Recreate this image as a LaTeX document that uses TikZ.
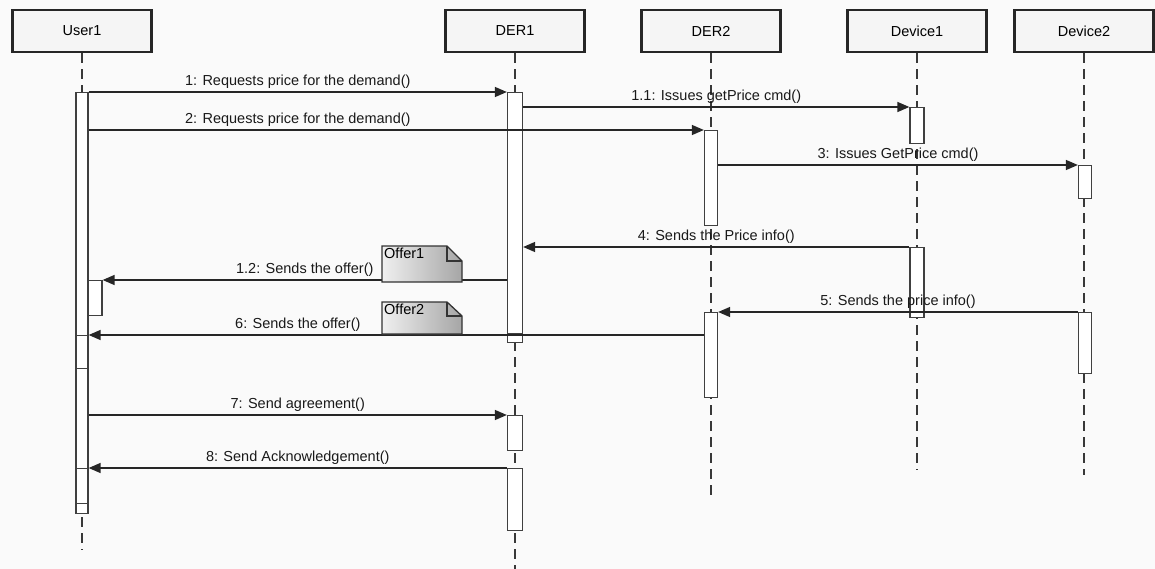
\documentclass[tikz,border=0pt]{standalone}
\usepackage{fontspec}
\setmainfont{Liberation Sans}
\usetikzlibrary{arrows.meta, positioning, calc}

\begin{document}
\begin{tikzpicture}[x=1pt, y=-1pt,
    every node/.style={font=\fontsize{14.5}{16}\selectfont},
    head/.style={draw=black!85, line width=2.8pt, fill=black!4, minimum width=139pt, minimum height=42pt, inner sep=0pt},
    lifeline/.style={draw=black!78, line width=2pt, dash pattern=on 10pt off 6pt},
    actbar/.style={draw=black!75, line width=1.3pt, fill=white, minimum width=13pt, inner sep=0pt, anchor=north},
    msg/.style={draw=black!85, line width=1.5pt, -{Triangle[length=12pt,width=10pt]}},
    lbl/.style={above, inner sep=2.5pt, text=black!90},
    note/.style={draw=black!80, line width=1.3pt, left color=black!6, right color=black!35}
]
\fill[black!2] (0,0) rectangle (1155,569);
\useasboundingbox (0,0) rectangle (1155,569);

% heads
\node[head] (user) at (82,31) {User1};
\node[head] (der1) at (515,31) {DER1};
\node[head] (der2) at (711,31) {DER2};
\node[head] (dev1) at (917,31) {Device1};
\node[head] (dev2) at (1084,31) {Device2};

% lifelines
\foreach \n/\e in {user/550, der1/569, der2/497, dev1/470, dev2/475}
    \draw[lifeline] (\n.south) -- (\n.south |- 0,\e);

% activation bars
\node[actbar, minimum width=12pt, minimum height=243pt] (u1b1) at (82,92) {};
\node[actbar, minimum width=12pt, minimum height=33pt] (u1b2) at (82,335) {};
\node[actbar, minimum width=12pt, minimum height=100pt] (u1b3) at (82,368) {};
\node[actbar, minimum width=12pt, minimum height=35pt] (u1b4) at (82,468) {};
\node[actbar, minimum width=12pt, minimum height=10pt] (u1b5) at (82,503) {};
\node[actbar, minimum width=14pt, minimum height=35pt] (u1n) at (95,280) {};

\node[actbar, minimum width=15pt, minimum height=241pt] (d1b1) at (515,92) {};
\node[actbar, minimum width=15pt, minimum height=9pt] (d1c1) at (515,333) {};
\node[actbar, minimum width=15pt, minimum height=35pt] (d1b2) at (515,415) {};
\node[actbar, minimum width=15pt, minimum height=62pt] (d1b3) at (515,468) {};

\node[actbar, minimum height=95pt] (d2b1) at (711,130) {};
\node[actbar, minimum height=85pt] (d2b2) at (711,312) {};

\node[actbar, minimum width=14pt, minimum height=36pt] (v1b1) at (917,107) {};
\node[actbar, minimum width=14pt, minimum height=70pt] (v1b2) at (917,247) {};

\node[actbar, minimum height=33pt] (v2b1) at (1085,165) {};
\node[actbar, minimum height=61pt] (v2b2) at (1085,312) {};

% messages
\draw[msg] (u1b1.north east) -- node[lbl] {1: Requests price for the demand()} (d1b1.north west);
\draw[msg] (d1b1.east |- v1b1.north) -- node[lbl] {1.1: Issues getPrice cmd()} (v1b1.north west);
\draw[msg] (u1b1.east |- d2b1.north) -- node[lbl, pos=0.34] {2: Requests price for the demand()} (d2b1.north west);
\draw[msg] (d2b1.east |- v2b1.north) -- node[lbl] {3: Issues GetPrice cmd()} (v2b1.north west);
\draw[msg] (v1b2.north west) -- node[lbl] {4: Sends the Price info()} (d1b1.east |- v1b2.north);
\draw[msg] (d1b1.west |- u1n.north) -- node[lbl] {1.2: Sends the offer()} (u1n.north east);
\draw[msg] (v2b2.north west) -- node[lbl] {5: Sends the price info()} (d2b2.north east);
\draw[msg] (d2b2.west |- u1b2.north) -- node[lbl, pos=0.66] {6: Sends the offer()} (u1b2.north east);
\draw[msg] (u1b3.east |- d1b2.north) -- node[lbl] {7: Send agreement()} (d1b2.north west);
\draw[msg] (d1b3.north west) -- node[lbl] {8: Send Acknowledgement()} (u1b4.north east);

% notes
\shadedraw[note] (382,246) -- (447,246) -- (462,261) -- (462,282) -- (382,282) -- cycle;
\draw[black!80, line width=1.3pt] (447,246) -- (447,261) -- (462,261);
\node[anchor=north west, inner sep=1pt] (offer1) at (383,247) {Offer1};
\shadedraw[note] (382,302) -- (447,302) -- (462,316) -- (462,334) -- (382,334) -- cycle;
\draw[black!80, line width=1.3pt] (447,302) -- (447,316) -- (462,316);
\node[anchor=north west, inner sep=1pt] (offer2) at (383,303) {Offer2};
\end{tikzpicture}
\end{document}
